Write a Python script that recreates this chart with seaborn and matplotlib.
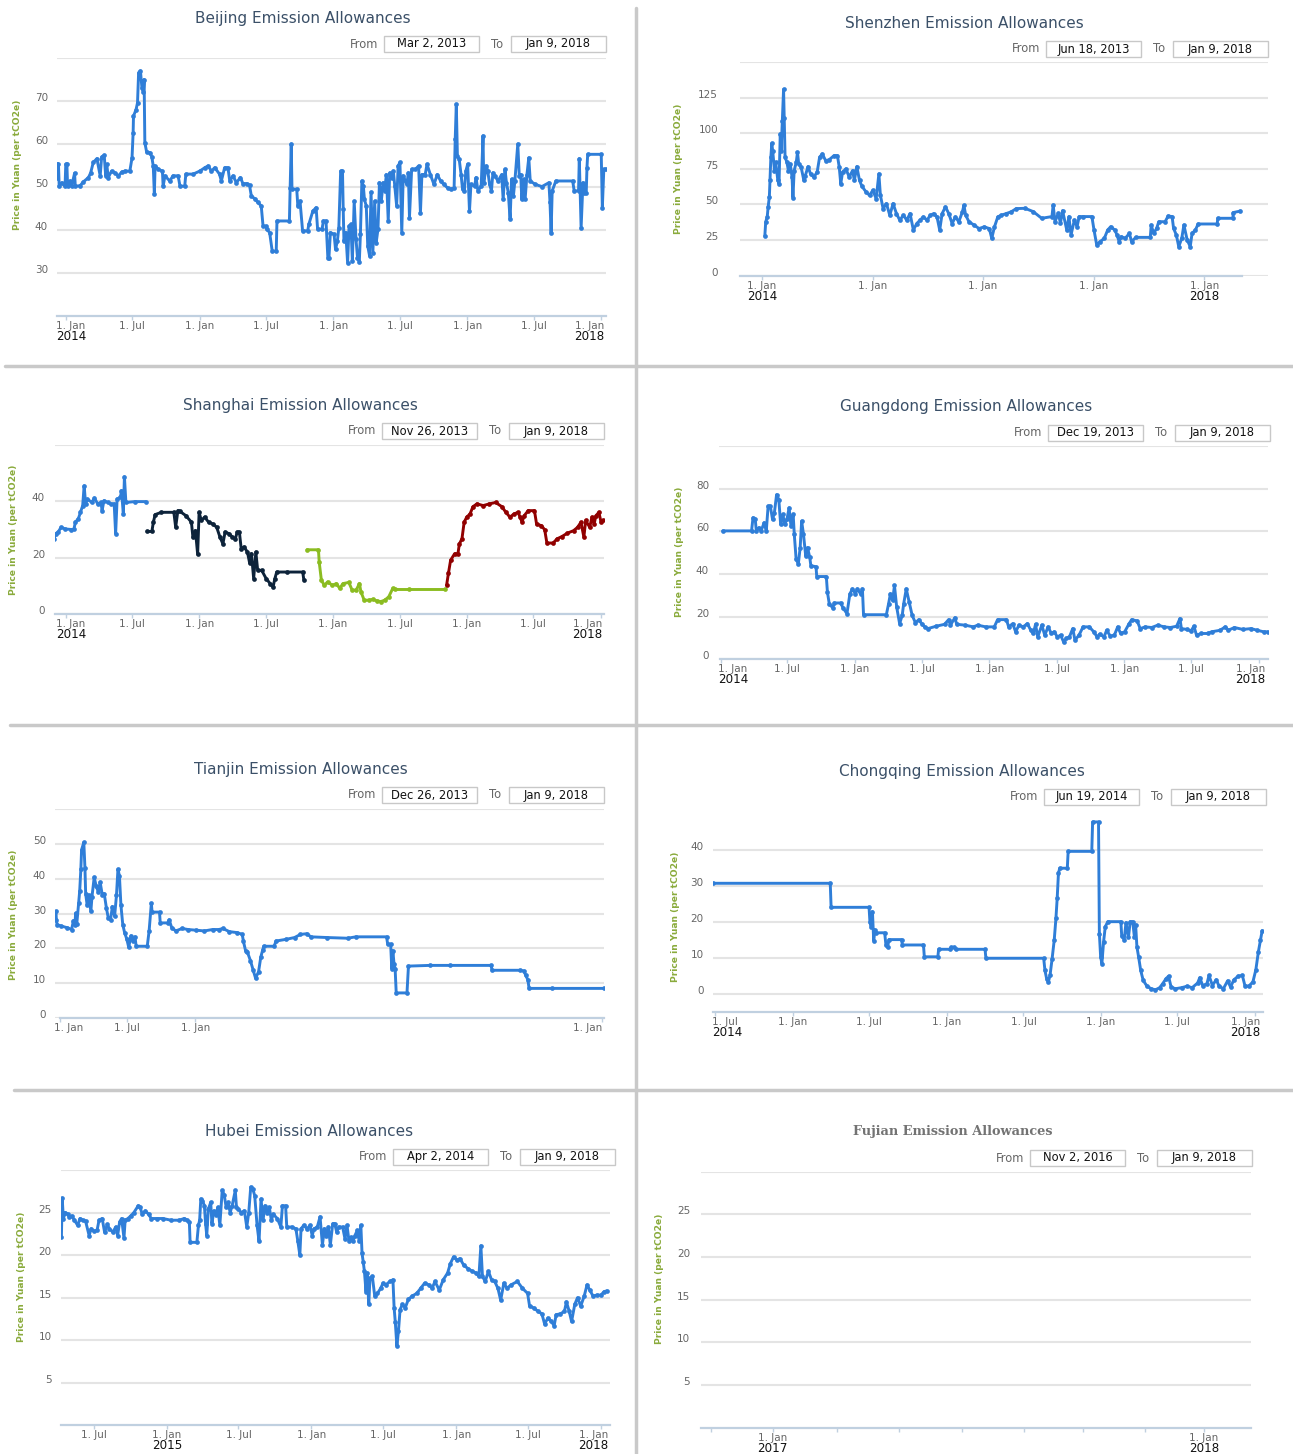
import matplotlib
matplotlib.use("Agg")
import matplotlib.pyplot as plt
import matplotlib.dates as mdates
import seaborn as sns
import pandas as pd
from matplotlib.transforms import ScaledTranslation
from matplotlib.lines import Line2D
from matplotlib.patches import Rectangle

W, H = 1293, 1454
BASE = pd.Timestamp("2014-01-01")   # data "day" values are days since this date

BLUE, NAVY, GREEN, RED = "#2f7ed8", "#0d233a", "#8bbc21", "#910000"
TITLE_C, AXIS_C, GRID_C, LABEL_C, YTITLE_C = "#3b5068", "#c0d0e0", "#e4e4e4", "#666666", "#8aab3c"

# ---------------------------------------------------------------- text data
titles = ["Beijing Emission Allowances", "Shenzhen Emission Allowances",
          "Shanghai Emission Allowances", "Guangdong Emission Allowances",
          "Tianjin Emission Allowances", "Chongqing Emission Allowances",
          "Hubei Emission Allowances", "Fujian Emission Allowances"]
from_dates = ["Mar 2, 2013", "Jun 18, 2013", "Nov 26, 2013", "Dec 19, 2013",
              "Dec 26, 2013", "Jun 19, 2014", "Apr 2, 2014", "Nov 2, 2016"]
to_dates = ["Jan 9, 2018"] * 8
y_title = "Price in Yuan (per tCO2e)"

# ---------------------------------------------------------------- tick data
ticks_janjul = ["2014-01-01", "2014-07-01", "2015-01-01", "2015-07-01", "2016-01-01",
                "2016-07-01", "2017-01-01", "2017-07-01", "2018-01-01"]
ticks_jan = ["2014-01-01", "2015-01-01", "2016-01-01", "2017-01-01", "2018-01-01"]
ticks_tianjin = ["2014-01-01", "2014-07-01", "2015-01-01", "2018-01-01"]
ticks_juljan = ["2014-07-01", "2015-01-01", "2015-07-01", "2016-01-01",
                "2016-07-01", "2017-01-01", "2017-07-01", "2018-01-01"]
ticks_fujian = ["2017-01-01", "2018-01-01"]
ticks_fujian_minor = ["2016-11-10", "2017-02-24", "2017-04-18", "2017-06-10",
                      "2017-08-02", "2017-09-21", "2017-11-12"]

# ---------------------------------------------------------------- price data (day, price)
beijing = [(-25, 52.2), (-24, 55.3), (-21, 55.3), (-19, 50.2), (-12, 51.0), (-3, 50.2), (-1, 55.3),
           (2, 55.3), (4, 50.2), (11, 51.4), (15, 50.2), (23, 53.2), (25, 50.2), (38, 50.3), (47, 51.2),
           (61, 52.2), (67, 53.3), (74, 55.7), (84, 56.6), (93, 52.6), (97, 57.0), (104, 57.4), (108, 52.6),
           (111, 55.3), (115, 52.2), (124, 53.7), (133, 53.3), (143, 52.6), (152, 53.5), (161, 53.7),
           (174, 53.7), (180, 56.8), (183, 62.6), (184, 66.5), (191, 68.0), (195, 69.6), (198, 76.6),
           (203, 77.0), (207, 73.1), (211, 72.1), (213, 75.0), (215, 60.3), (220, 58.1), (229, 58.0),
           (234, 57.0), (238, 54.9), (241, 48.3), (243, 54.9), (252, 54.1), (263, 53.7), (265, 50.2),
           (270, 52.6), (283, 51.4), (292, 52.6), (306, 52.6), (311, 50.2), (324, 50.2), (327, 53.0),
           (347, 53.0), (365, 53.7), (379, 54.5), (388, 54.9), (397, 53.7), (406, 54.5), (419, 53.0),
           (424, 51.4), (433, 54.5), (442, 54.5), (447, 51.4), (456, 52.6), (465, 51.0), (476, 52.2),
           (483, 50.8), (494, 50.8), (501, 50.4), (506, 47.9), (515, 47.3), (524, 46.4), (533, 45.6),
           (538, 40.9), (545, 40.9), (548, 40.2), (556, 39.4), (563, 35.1), (574, 35.1), (576, 42.1),
           (610, 42.1), (612, 49.8), (615, 60.0), (617, 49.5), (630, 49.5), (633, 45.6), (639, 46.7),
           (646, 39.8), (660, 39.8), (663, 41.3), (674, 44.4), (683, 45.2), (687, 40.2), (699, 40.2),
           (703, 42.1), (710, 42.1), (715, 33.6), (718, 33.6), (722, 39.4), (732, 39.0), (736, 35.5),
           (741, 37.4), (745, 40.5), (750, 53.7), (755, 53.7), (757, 44.8), (759, 37.4), (764, 39.4),
           (769, 32.4), (773, 40.9), (778, 41.3), (782, 32.8), (787, 46.7), (792, 37.8), (796, 33.6),
           (801, 32.6), (804, 39.0), (808, 51.4), (812, 50.2), (815, 47.1), (820, 45.6), (824, 36.3),
           (829, 34.0), (833, 48.8), (838, 34.7), (843, 46.7), (847, 37.0), (852, 40.2), (856, 51.0),
           (861, 46.7), (866, 51.0), (870, 49.1), (875, 52.9), (880, 42.1), (884, 53.3), (889, 52.2),
           (894, 53.7), (898, 50.2), (903, 45.6), (907, 54.9), (912, 55.7), (917, 39.4), (921, 52.6),
           (931, 50.6), (935, 53.3), (938, 42.9), (944, 54.1), (954, 54.1), (963, 54.9), (968, 44.0),
           (972, 52.9), (981, 52.9), (986, 55.3), (995, 52.9), (1005, 50.6), (1014, 52.9), (1023, 51.4),
           (1032, 50.6), (1042, 49.8), (1051, 49.5), (1060, 49.8), (1063, 61.1), (1066, 69.2),
           (1069, 57.2), (1074, 56.4), (1079, 52.9), (1083, 49.5), (1088, 49.1), (1092, 53.7),
           (1097, 55.3), (1102, 44.4), (1106, 50.6), (1116, 50.2), (1120, 52.2), (1125, 49.1),
           (1134, 50.2), (1139, 61.9), (1141, 51.0), (1148, 54.9), (1152, 53.7), (1157, 50.6),
           (1162, 49.1), (1166, 53.3), (1171, 52.6), (1180, 51.4), (1190, 52.9), (1194, 47.1),
           (1199, 54.1), (1203, 51.0), (1208, 48.7), (1213, 42.5), (1217, 51.8), (1222, 47.9),
           (1226, 51.4), (1234, 60.0), (1238, 52.6), (1242, 52.9), (1245, 47.1), (1250, 51.8),
           (1254, 47.1), (1259, 52.9), (1264, 56.8), (1268, 51.4), (1282, 50.6), (1300, 50.1),
           (1319, 51.0), (1322, 46.4), (1325, 39.4), (1328, 49.1), (1338, 51.4), (1384, 51.4),
           (1388, 49.1), (1400, 49.1), (1402, 56.6), (1407, 40.5), (1412, 51.0), (1416, 48.7),
           (1421, 48.7), (1423, 54.5), (1425, 57.6), (1462, 57.6), (1465, 45.2), (1469, 54.1),
           (1474, 54.1)]

shenzhen = [(9, 27.8), (12, 37.8), (17, 41.3), (20, 48.3), (24, 55.2), (26, 66.9), (29, 83.1), (32, 92.9),
            (35, 87.8), (41, 73.8), (45, 79.7), (52, 66.9), (56, 64.5), (60, 99.4), (63, 87.8), (67, 108.7),
            (71, 130.8), (73, 111.0), (76, 83.1), (82, 79.7), (87, 73.8), (93, 78.5), (99, 69.2), (102, 54.8),
            (106, 73.8), (113, 79.7), (117, 86.6), (121, 78.5), (129, 76.2), (138, 66.9), (143, 70.3),
            (152, 76.6), (160, 71.5), (171, 69.2), (182, 72.7), (190, 83.1), (199, 85.5), (210, 80.8),
            (221, 81.3), (238, 84.3), (249, 84.3), (255, 76.2), (260, 64.5), (266, 72.7), (277, 75.0),
            (288, 69.2), (299, 73.8), (305, 66.9), (313, 76.6), (322, 66.9), (330, 62.7), (344, 58.7),
            (355, 56.4), (366, 59.9), (377, 54.1), (386, 71.5), (391, 56.4), (400, 47.1), (411, 50.6),
            (422, 42.4), (433, 50.6), (444, 43.6), (455, 39.0), (467, 42.4), (478, 39.0), (489, 43.6),
            (500, 32.0), (511, 36.6), (522, 39.0), (533, 41.3), (545, 39.0), (556, 42.4), (567, 43.6),
            (578, 41.3), (587, 32.0), (595, 43.6), (606, 48.3), (617, 43.6), (628, 36.6), (639, 41.3),
            (650, 37.8), (662, 44.8), (667, 49.4), (673, 42.4), (684, 37.8), (701, 35.5), (717, 33.1),
            (734, 34.3), (751, 33.1), (759, 26.2), (768, 34.3), (779, 41.3), (790, 42.4), (807, 43.6),
            (823, 44.8), (840, 47.1), (869, 47.3), (896, 45.0), (924, 40.3), (958, 41.5), (962, 49.6),
            (968, 37.9), (979, 43.8), (986, 36.8), (993, 45.7), (1007, 32.0), (1014, 41.5), (1021, 28.6),
            (1032, 39.0), (1041, 34.4), (1048, 41.5), (1062, 41.5), (1090, 41.5), (1097, 32.0),
            (1106, 21.5), (1117, 23.9), (1131, 26.2), (1142, 32.0), (1152, 34.4), (1166, 32.0),
            (1173, 28.6), (1180, 23.9), (1187, 27.4), (1200, 26.2), (1214, 29.7), (1221, 23.9),
            (1235, 26.9), (1283, 26.9), (1286, 35.6), (1294, 29.7), (1304, 33.2), (1311, 37.9),
            (1332, 37.9), (1342, 41.9), (1355, 41.5), (1360, 33.2), (1369, 28.6), (1377, 20.4),
            (1387, 26.2), (1394, 35.6), (1405, 25.0), (1415, 20.4), (1421, 29.7), (1432, 32.0),
            (1441, 36.3), (1504, 36.3), (1506, 40.3), (1556, 40.3), (1557, 44.3), (1581, 45.4)]

shanghai_p1 = [(-32, 26.7), (-28, 28.5), (-21, 29.1), (-13, 30.8), (-2, 30.2), (15, 30.0), (22, 30.1),
               (26, 32.6), (34, 33.8), (40, 36.1), (46, 38.5), (50, 45.5), (54, 39.1), (59, 40.8),
               (71, 39.6), (78, 41.2), (87, 39.1), (96, 39.6), (99, 36.7), (104, 40.2), (115, 39.6),
               (123, 39.1), (132, 39.1), (136, 28.5), (140, 40.8), (149, 41.4), (152, 43.8), (157, 35.5),
               (160, 48.7), (164, 39.6), (188, 39.9), (218, 39.9)]
shanghai_p2 = [(222, 29.3), (235, 29.3), (239, 32.6), (244, 35.3), (261, 36.1), (295, 36.1), (300, 30.8),
               (306, 36.7), (311, 36.5), (328, 34.9), (343, 32.6), (347, 27.3), (354, 29.6), (360, 21.2),
               (364, 36.1), (370, 33.2), (379, 34.4), (390, 32.6), (401, 32.0), (412, 30.8), (421, 27.3),
               (429, 24.9), (435, 29.1), (446, 28.5), (455, 27.3), (463, 26.7), (468, 29.1), (474, 29.1),
               (479, 23.2), (487, 23.8), (496, 22.0), (502, 18.1), (507, 21.4), (513, 12.6), (519, 22.0),
               (524, 15.5), (535, 15.5), (547, 12.6), (558, 10.8), (566, 9.6), (571, 12.6), (576, 14.9),
               (603, 14.9), (647, 14.9), (650, 12.2)]
shanghai_p3 = [(659, 22.8), (690, 22.8), (692, 18.5), (698, 12.0), (706, 10.2), (715, 11.4), (728, 10.2),
               (739, 10.8), (748, 9.1), (757, 10.8), (773, 11.2), (782, 8.5), (793, 8.5), (802, 10.8),
               (806, 7.9), (815, 4.9), (827, 4.9), (838, 5.2), (849, 4.7), (860, 4.4), (871, 4.9),
               (882, 6.1), (893, 9.1), (899, 8.7), (938, 8.7), (1036, 8.7)]
shanghai_p4 = [(1040, 10.2), (1045, 14.4), (1051, 19.1), (1062, 21.4), (1071, 21.4), (1075, 24.9),
               (1082, 26.7), (1088, 32.6), (1095, 34.4), (1104, 35.5), (1112, 38.1), (1123, 39.1),
               (1140, 38.5), (1157, 39.1), (1174, 39.6), (1191, 38.1), (1202, 36.1), (1213, 34.4),
               (1224, 35.5), (1235, 36.1), (1241, 34.4), (1246, 32.6), (1252, 34.9), (1263, 36.7),
               (1280, 36.7), (1286, 31.8), (1299, 31.4), (1308, 29.9), (1314, 25.2), (1331, 25.2),
               (1342, 26.7), (1355, 27.5), (1370, 28.7), (1387, 29.6), (1398, 30.8), (1407, 32.6),
               (1415, 27.3), (1420, 33.2), (1431, 30.8), (1437, 34.4), (1443, 32.0), (1448, 34.9),
               (1456, 36.1), (1462, 32.6), (1467, 33.2)]

guangdong = [(6, 60.2), (84, 60.2), (88, 66.4), (94, 65.6), (97, 60.2), (104, 61.7), (110, 60.2),
             (118, 64.0), (124, 60.2), (129, 71.8), (135, 71.8), (141, 65.6), (146, 68.7), (152, 77.2),
             (158, 74.9), (163, 63.3), (169, 67.9), (174, 63.3), (180, 65.6), (186, 71.0), (191, 62.5),
             (197, 67.9), (200, 58.6), (205, 47.0), (211, 44.7), (216, 52.4), (220, 64.8), (225, 58.6),
             (231, 48.5), (236, 52.4), (242, 47.8), (245, 43.9), (259, 43.4), (261, 38.8), (287, 38.8),
             (290, 31.5), (295, 26.0), (304, 24.2), (309, 26.4), (326, 26.4), (332, 24.2), (343, 21.4),
             (351, 30.7), (358, 33.0), (366, 30.7), (371, 33.0), (380, 30.7), (385, 33.0), (388, 20.9),
             (450, 20.9), (456, 26.0), (461, 30.7), (467, 27.6), (472, 34.6), (478, 24.5), (486, 16.7),
             (493, 20.6), (497, 26.0), (504, 33.0), (512, 26.8), (520, 20.6), (529, 17.1), (538, 18.6),
             (546, 16.7), (554, 15.2), (563, 14.4), (585, 15.5), (608, 16.4), (619, 18.6), (624, 16.0),
             (636, 19.5), (641, 16.4), (664, 16.0), (686, 15.2), (698, 16.0), (720, 15.2), (743, 15.2),
             (752, 18.6), (776, 18.6), (782, 15.2), (793, 16.7), (801, 12.9), (810, 16.0), (821, 15.2),
             (833, 16.7), (842, 13.6), (849, 12.1), (855, 16.4), (861, 10.5), (872, 16.0), (880, 11.3),
             (889, 15.2), (898, 12.1), (906, 12.9), (914, 10.5), (923, 11.3), (931, 8.2), (939, 9.8),
             (947, 10.5), (956, 14.4), (962, 9.0), (973, 11.3), (984, 15.2), (1001, 15.2), (1013, 12.9),
             (1022, 10.5), (1029, 11.8), (1041, 10.5), (1048, 13.6), (1058, 10.9), (1069, 11.3),
             (1078, 15.2), (1086, 12.1), (1097, 12.9), (1108, 16.4), (1116, 18.6), (1131, 18.0),
             (1139, 14.4), (1153, 15.2), (1170, 14.9), (1187, 16.0), (1204, 15.2), (1221, 14.9),
             (1238, 15.5), (1247, 19.1), (1251, 14.4), (1266, 14.0), (1277, 13.3), (1285, 15.5),
             (1292, 11.3), (1305, 12.1), (1322, 12.1), (1333, 12.9), (1356, 13.6), (1370, 15.2),
             (1378, 13.6), (1395, 14.9), (1418, 14.0), (1440, 14.4), (1457, 13.6), (1474, 12.9),
             (1485, 12.9)]

tianjin = [(-11, 30.6), (-10, 28.2), (-8, 26.8), (3, 26.4), (20, 25.9), (31, 25.4), (36, 27.9), (40, 26.8),
           (42, 30.1), (45, 27.0), (50, 32.9), (53, 36.6), (56, 42.7), (58, 48.3), (64, 50.4), (67, 43.2),
           (69, 35.7), (73, 32.4), (77, 35.2), (83, 30.6), (86, 34.8), (92, 40.4), (97, 38.0), (103, 36.2),
           (108, 39.0), (114, 35.2), (119, 35.7), (125, 31.5), (130, 28.7), (136, 28.2), (141, 32.0),
           (147, 29.2), (152, 35.2), (156, 42.7), (160, 40.8), (164, 32.4), (169, 26.8), (174, 24.5),
           (180, 22.6), (185, 20.3), (191, 23.6), (196, 22.1), (202, 23.3), (205, 20.6), (235, 20.6),
           (240, 25.0), (246, 32.9), (248, 30.4), (268, 30.4), (270, 27.3), (290, 27.3), (294, 28.2),
           (301, 25.9), (312, 25.0), (329, 25.7), (345, 25.4), (367, 25.2), (389, 25.0), (411, 25.4),
           (428, 25.4), (439, 25.7), (456, 24.8), (478, 24.5), (491, 24.0), (494, 22.1), (500, 19.3),
           (505, 18.9), (513, 16.5), (520, 13.9), (527, 11.4), (535, 13.3), (541, 17.5), (546, 19.5),
           (549, 20.6), (577, 20.6), (582, 22.1), (610, 22.6), (632, 23.1), (648, 24.0), (665, 24.2),
           (676, 23.3), (720, 23.1), (775, 22.9), (797, 23.3), (880, 23.3), (883, 21.2), (891, 21.2),
           (894, 14.2), (897, 19.3), (900, 15.6), (903, 14.2), (906, 7.2), (935, 7.2), (939, 14.9),
           (996, 15.1), (1051, 15.1), (1162, 15.1), (1164, 13.7), (1239, 13.7), (1250, 13.5),
           (1255, 12.3), (1261, 10.9), (1264, 8.5), (1327, 8.5), (1466, 8.5)]

chongqing = [(176, 30.8), (454, 30.8), (456, 24.1), (546, 24.1), (548, 20.1), (551, 18.7), (554, 22.9),
             (557, 14.8), (560, 17.8), (563, 17.0), (583, 17.0), (586, 13.6), (590, 12.9), (593, 15.1),
             (623, 15.1), (625, 13.6), (675, 13.6), (677, 10.3), (709, 10.3), (711, 12.4), (737, 12.4),
             (741, 12.9), (748, 12.9), (751, 12.4), (821, 12.4), (823, 9.9), (960, 9.9), (963, 6.5),
             (967, 4.2), (971, 3.3), (975, 5.1), (980, 9.8), (985, 15.0), (989, 21.0), (992, 26.6),
             (995, 33.6), (998, 35.0), (1016, 35.0), (1018, 39.7), (1074, 39.7), (1076, 47.9),
             (1090, 47.9), (1092, 16.8), (1095, 10.3), (1098, 8.4), (1102, 14.5), (1106, 18.7),
             (1112, 20.1), (1143, 20.1), (1145, 16.1), (1151, 15.1), (1155, 19.8), (1161, 15.7),
             (1165, 20.1), (1171, 20.1), (1175, 15.9), (1178, 19.2), (1181, 13.1), (1185, 10.3),
             (1190, 6.5), (1196, 3.7), (1205, 2.1), (1215, 1.4), (1225, 1.1), (1235, 1.7), (1242, 2.8),
             (1250, 4.2), (1256, 4.9), (1262, 1.9), (1272, 1.4), (1287, 1.7), (1300, 2.1), (1312, 1.7),
             (1325, 3.0), (1330, 4.5), (1337, 2.3), (1347, 2.8), (1352, 5.1), (1360, 2.3), (1369, 3.9),
             (1376, 2.1), (1386, 1.4), (1396, 3.6), (1403, 1.9), (1411, 3.9), (1421, 4.9), (1431, 5.1),
             (1437, 2.3), (1446, 2.1), (1456, 3.3), (1463, 6.7), (1469, 11.7), (1474, 15.0), (1478, 17.6)]

hubei = [(99, 22.1), (101, 26.7), (104, 24.3), (109, 25.0), (115, 24.8), (119, 24.5), (125, 24.6),
         (132, 24.1), (140, 23.5), (146, 24.3), (153, 24.1), (160, 24.0), (169, 22.3), (174, 23.1),
         (181, 22.8), (189, 22.9), (194, 24.1), (202, 24.3), (208, 22.7), (215, 23.6), (220, 23.1),
         (229, 22.7), (236, 23.3), (241, 22.3), (246, 23.9), (251, 24.3), (257, 22.0), (260, 24.1),
         (267, 24.3), (274, 24.6), (282, 25.0), (293, 25.8), (298, 25.6), (303, 24.8), (311, 25.2),
         (319, 24.8), (326, 24.3), (341, 24.3), (355, 24.3), (376, 24.1), (396, 24.1), (409, 24.3),
         (417, 24.1), (422, 23.9), (424, 21.5), (441, 21.5), (445, 23.5), (448, 24.1), (451, 26.6),
         (455, 26.4), (460, 25.8), (463, 23.7), (466, 22.3), (470, 25.4), (476, 26.2), (479, 23.7),
         (484, 25.2), (489, 24.7), (494, 25.6), (499, 23.5), (505, 27.6), (510, 27.1), (515, 25.6),
         (520, 26.2), (525, 25.0), (530, 25.8), (538, 27.6), (541, 25.6), (546, 25.4), (553, 25.0),
         (561, 25.2), (567, 23.3), (572, 25.0), (577, 28.0), (582, 27.8), (587, 27.0), (593, 23.5),
         (598, 21.6), (603, 26.6), (608, 24.1), (613, 25.8), (618, 25.0), (624, 25.6), (629, 24.1),
         (634, 24.8), (644, 24.3), (653, 23.3), (657, 25.8), (665, 25.8), (668, 23.3), (680, 23.3),
         (691, 23.1), (696, 21.6), (701, 20.0), (704, 23.1), (711, 23.5), (719, 23.1), (727, 23.5),
         (732, 22.3), (737, 23.1), (745, 23.3), (752, 24.5), (758, 21.2), (763, 23.1), (768, 22.3),
         (773, 23.3), (778, 21.2), (784, 23.7), (789, 23.7), (794, 22.7), (799, 23.3), (809, 23.3),
         (815, 21.9), (820, 23.5), (825, 21.7), (830, 22.1), (835, 21.6), (840, 22.3), (846, 22.9),
         (851, 21.6), (855, 23.5), (858, 20.2), (861, 19.2), (864, 18.1), (868, 15.7), (871, 17.9),
         (875, 14.2), (878, 17.3), (884, 17.5), (890, 15.2), (897, 15.5), (905, 16.1), (911, 16.7),
         (918, 16.5), (928, 16.9), (936, 17.1), (939, 13.8), (942, 12.1), (946, 9.3), (950, 11.1),
         (954, 13.6), (960, 14.2), (967, 13.8), (975, 14.8), (985, 15.2), (996, 15.5), (1006, 16.1),
         (1016, 16.7), (1027, 16.5), (1035, 16.1), (1042, 16.9), (1053, 15.9), (1063, 17.1),
         (1074, 17.9), (1081, 19.0), (1089, 19.8), (1098, 19.4), (1105, 19.6), (1115, 18.8),
         (1126, 18.4), (1136, 18.1), (1146, 17.9), (1153, 17.5), (1158, 21.1), (1162, 17.5),
         (1169, 16.9), (1177, 18.1), (1185, 17.1), (1193, 16.9), (1201, 16.1), (1208, 14.7),
         (1216, 16.7), (1224, 16.1), (1234, 16.5), (1250, 16.9), (1263, 16.1), (1276, 15.5),
         (1281, 14.0), (1291, 13.8), (1302, 13.4), (1312, 13.1), (1319, 11.9), (1327, 12.6),
         (1336, 12.2), (1343, 11.7), (1348, 13.0), (1359, 13.1), (1369, 13.4), (1374, 14.5),
         (1381, 13.4), (1387, 12.2), (1395, 14.2), (1402, 15.0), (1410, 14.0), (1419, 15.2),
         (1426, 16.5), (1433, 15.9), (1441, 15.2), (1451, 15.3), (1461, 15.3), (1469, 15.7),
         (1476, 15.8)]

fujian = []

# ---------------------------------------------------------------- figure
sns.set_theme(style="white")
plt.rcParams["font.family"] = ["DejaVu Sans"]

fig = plt.figure(figsize=(W / 100, H / 100), dpi=100)


def px_axes(x0, x1, y0, y1):
    return fig.add_axes([x0 / W, 1 - y1 / H, (x1 - x0) / W, (y1 - y0) / H])


def dnum(day):
    return mdates.date2num((BASE + pd.Timedelta(days=float(day))).to_pydatetime())


def draw_series(ax, series, colors):
    frames = []
    for i, pts in enumerate(series):
        d = pd.DataFrame(pts, columns=["day", "price"])
        d["phase"] = f"p{i}"
        frames.append(d)
    df = pd.concat(frames, ignore_index=True)
    df["date"] = BASE + pd.to_timedelta(df["day"], unit="D")
    pal = {f"p{i}": c for i, c in enumerate(colors)}
    sns.lineplot(data=df, x="date", y="price", hue="phase", palette=pal, estimator=None,
                 sort=False, legend=False, ax=ax, linewidth=2.1, marker="o",
                 markersize=3.4, markeredgewidth=0)


def style_axes(ax, px, xlim, ylim, yvals, ylabels, ticks, years, ypad,
               spine=None, minor=None):
    x0, x1 = px
    ax.xaxis_date()
    ax.set_xlim(dnum(xlim[0]), dnum(xlim[1]))
    ax.set_ylim(*ylim)
    ax.set_xlabel("")
    ax.set_ylabel("")
    for s in ["top", "right", "left"]:
        ax.spines[s].set_visible(False)
    ax.spines["bottom"].set_color(AXIS_C)
    ax.spines["bottom"].set_linewidth(1.6)
    if spine is not None:
        ax.spines["bottom"].set_bounds(dnum(spine[0]), dnum(spine[1]))
    ax.set_yticks(yvals)
    ax.set_yticklabels(ylabels)
    ax.grid(axis="y", color=GRID_C, lw=1.5)
    ax.grid(axis="x", visible=False)
    ax.set_axisbelow(True)
    ax.tick_params(axis="y", length=0, pad=ypad * 0.72, labelsize=7.5, labelcolor=LABEL_C)
    for t in ax.get_yticklabels():
        t.set_va("baseline")
    tdates = pd.to_datetime(ticks)
    ax.set_xticks(mdates.date2num(tdates.to_pydatetime()))
    ax.set_xticklabels(["1. Jan" if d.month == 1 else "1. Jul" for d in tdates])
    ax.tick_params(axis="x", which="both", bottom=True, direction="out", length=3.2, width=1,
                   color=AXIS_C, pad=0.3, labelsize=7.5, labelcolor=LABEL_C)
    if minor is not None:
        ax.set_xticks(mdates.date2num(pd.to_datetime(minor).to_pydatetime()), minor=True)
    # justify edge labels like the original (keep inside plot)
    span = dnum(xlim[1]) - dnum(xlim[0])
    labels = ax.get_xticklabels()
    align = []
    for i, d in enumerate(tdates):
        tpx = x0 + (mdates.date2num(d.to_pydatetime()) - dnum(xlim[0])) / span * (x1 - x0)
        ha, dx = "center", 0.0
        if i == 0 and tpx - 15 < x0 - 2:
            ha, dx = "left", max((x0 - 1) - tpx, -10.0)
        if i == len(tdates) - 1 and tpx + 15 > x1 + 2:
            ha, dx = "right", (x1 - 2) - tpx
        labels[i].set_ha(ha)
        labels[i].set_transform(labels[i].get_transform() +
                                ScaledTranslation(dx / 100, 0, fig.dpi_scale_trans))
        align.append((ha, dx))
    ydates = pd.to_datetime(years)
    for yd in ydates:
        i = list(tdates).index(yd)
        ha, dx = align[i]
        ax.annotate(str(yd.year), xy=(mdates.date2num(yd.to_pydatetime()), 0),
                    xycoords=("data", "axes fraction"), xytext=(dx, -20.5),
                    textcoords="offset pixels", ha=ha, va="center",
                    fontsize=8.6, color="#111111", annotation_clip=False)


def header(idx, cx, cy_title, right, cy_box, yt_x, yt_y, serif=False):
    if serif:
        fig.text(cx / W, 1 - cy_title / H, titles[idx], ha="center", va="center",
                 fontsize=9.3, fontweight="bold", color="#737373", family=["DejaVu Serif"])
    else:
        fig.text(cx / W, 1 - cy_title / H, titles[idx], ha="center", va="center",
                 fontsize=11, color=TITLE_C)
    bw, bh = 95, 16
    b2 = right - bw
    b1 = b2 - 32 - bw
    for xl, txt in [(b1, from_dates[idx]), (b2, to_dates[idx])]:
        fig.add_artist(Rectangle((xl / W, 1 - (cy_box + bh / 2) / H), bw / W, bh / H,
                                 transform=fig.transFigure, facecolor="white",
                                 edgecolor="#c8c8c8", lw=1))
        fig.text((xl + bw / 2) / W, 1 - cy_box / H, txt, ha="center", va="center",
                 fontsize=8.3, color="#111111")
    fig.text((b1 - 6) / W, 1 - cy_box / H, "From", ha="right", va="center",
             fontsize=8.3, color=LABEL_C)
    fig.text((b2 - 14) / W, 1 - cy_box / H, "To", ha="center", va="center",
             fontsize=8.3, color=LABEL_C)
    fig.text(yt_x / W, 1 - yt_y / H, y_title, rotation=90, ha="center", va="center",
             fontsize=6.6, fontweight="bold", color=YTITLE_C)


# 1 Beijing
ax = px_axes(57, 606, 58, 316)
draw_series(ax, [beijing], [BLUE])
style_axes(ax, (57, 606), (-25, 1475), (20, 80), [30, 40, 50, 60, 70, 80],
           ["30", "40", "50", "60", "70", ""], ticks_janjul, ["2014-01-01", "2018-01-01"], 9)
header(0, 303, 19, 606, 44, 17.5, 165)

# 2 Shenzhen
ax = px_axes(740, 1268, 62, 275.7)
draw_series(ax, [shenzhen], [BLUE])
style_axes(ax, (740, 1268), (-73, 1672), (0, 150), [0, 25, 50, 75, 100, 125, 150],
           ["0", "25", "50", "75", "100", "125", ""], ticks_jan, ["2014-01-01", "2018-01-01"], 22,
           spine=(-73, 1586))
header(1, 964, 23, 1268, 49, 679, 169)

# 3 Shanghai
ax = px_axes(54.5, 604, 445, 614)
draw_series(ax, [shanghai_p1, shanghai_p2, shanghai_p3, shanghai_p4], [BLUE, NAVY, GREEN, RED])
style_axes(ax, (54.5, 604), (-31, 1470), (0, 60), [0, 20, 40, 60], ["0", "20", "40", ""],
           ticks_janjul, ["2014-01-01", "2018-01-01"], 9.5)
header(2, 300.5, 405.5, 604, 431, 14, 529.5)

# 4 Guangdong
ax = px_axes(719.5, 1267.6, 446, 659.3)
draw_series(ax, [guangdong], [BLUE])
style_axes(ax, (719.5, 1267.6), (-3, 1485), (0, 100), [0, 20, 40, 60, 80, 100],
           ["0", "20", "40", "60", "80", ""], ticks_janjul, ["2014-01-01", "2018-01-01"], 10.5)
header(3, 966, 407, 1270, 432.7, 680, 552)

# 5 Tianjin
ax = px_axes(54.5, 604, 809, 1018)
draw_series(ax, [tianjin], [BLUE])
style_axes(ax, (54.5, 604), (-15, 1466), (0, 60), [0, 10, 20, 30, 40, 50, 60],
           ["0", "10", "20", "30", "40", "50", ""], ticks_tianjin, [], 8.5, spine=(0, 1466))
header(4, 300.5, 769.5, 604, 795, 14, 915)

# 6 Chongqing
ax = px_axes(713, 1262.6, 818, 1011.7)
draw_series(ax, [chongqing], [BLUE])
style_axes(ax, (713, 1262.6), (176, 1479), (-5, 49), [0, 10, 20, 30, 40],
           ["0", "10", "20", "30", "40"], ticks_juljan, ["2014-07-01", "2018-01-01"], 9.4)
header(5, 961.5, 771.3, 1266, 796.7, 675, 917)

# 7 Hubei
ax = px_axes(61, 610, 1170, 1425.3)
draw_series(ax, [hubei], [BLUE])
style_axes(ax, (61, 610), (98, 1484), (0, 30), [5, 10, 15, 20, 25, 30],
           ["5", "10", "15", "20", "25", ""], ticks_juljan, ["2015-01-01", "2018-01-01"], 9.4)
header(6, 309, 1131, 615, 1156.7, 22, 1277)

# 8 Fujian (no trades)
ax = px_axes(700.7, 1251, 1171.7, 1427.7)
style_axes(ax, (700.7, 1251), (1035, 1501), (0, 30), [5, 10, 15, 20, 25, 30],
           ["5", "10", "15", "20", "25", ""], ticks_fujian, ["2017-01-01", "2018-01-01"], 10.7,
           minor=ticks_fujian_minor)
header(7, 952.7, 1132, 1252, 1158, 660, 1278.5, serif=True)


# panel separators
def sep(xa, ya, xb, yb):
    fig.add_artist(Line2D([xa / W, xb / W], [1 - ya / H, 1 - yb / H], transform=fig.transFigure,
                          color="#c9c9c9", lw=2.5))


sep(636, 8, 636, H)
sep(5, 366, W, 366)
sep(10, 725, W, 725)
sep(14, 1090, W, 1090)

fig.savefig("out.png", dpi=100, facecolor="white")
